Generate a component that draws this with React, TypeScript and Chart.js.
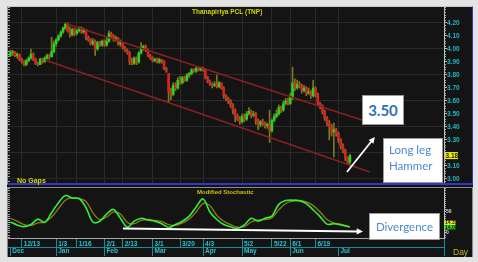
import React, { useEffect, useRef } from 'react';
import { Chart, registerables } from 'chart.js';

Chart.register(...registerables);
Chart.defaults.font.family = '"Liberation Sans", Arial, sans-serif';

// ---------------- data (bar index 1..149, Dec -> early Jul) ----------------
const opens = [
  3.95, 3.97, 3.98, 3.95, 3.96, 3.92, 3.90, 3.88, 3.91, 3.93,
  3.96, 3.92, 3.89, 3.88, 3.92, 3.90, 3.93, 3.95, 3.94, 3.98,
  4.04, 4.07, 4.10, 4.13, 4.16, 4.19, 4.14, 4.11, 4.15, 4.12,
  4.14, 4.16, 4.13, 4.15, 4.09, 4.07, 4.04, 4.06, 4.00, 4.05,
  4.03, 4.06, 4.03, 4.06, 4.12, 4.10, 4.07, 4.08, 4.04, 4.05,
  4.01, 3.99, 3.97, 3.90, 3.89, 3.93, 3.90, 3.97, 4.01, 4.02,
  3.99, 3.95, 3.93, 3.91, 3.92, 3.90, 3.92, 3.91, 3.85, 3.81,
  3.67, 3.65, 3.72, 3.70, 3.76, 3.74, 3.78, 3.76, 3.80, 3.81,
  3.84, 3.83, 3.85, 3.84, 3.85, 3.84, 3.78, 3.75, 3.73, 3.72,
  3.73, 3.71, 3.74, 3.70, 3.64, 3.62, 3.60, 3.57, 3.53, 3.48,
  3.46, 3.44, 3.48, 3.46, 3.50, 3.52, 3.49, 3.50, 3.45, 3.42,
  3.44, 3.43, 3.41, 3.42, 3.37, 3.45, 3.48, 3.50, 3.55, 3.53,
  3.58, 3.60, 3.58, 3.63, 3.74, 3.70, 3.73, 3.72, 3.68, 3.70,
  3.66, 3.67, 3.64, 3.70, 3.65, 3.58, 3.56, 3.52, 3.47, 3.43,
  3.40, 3.36, 3.38, 3.35, 3.30, 3.25, 3.22, 3.16, 3.13,
];
const highs = [
  3.99, 3.99, 3.98, 3.97, 3.96, 3.93, 3.91, 3.92, 3.94, 4.00,
  3.97, 3.93, 3.90, 3.93, 3.93, 3.94, 3.96, 3.96, 4.09, 4.06,
  4.08, 4.11, 4.14, 4.17, 4.20, 4.20, 4.17, 4.16, 4.16, 4.15,
  4.17, 4.17, 4.16, 4.15, 4.10, 4.08, 4.08, 4.07, 4.06, 4.06,
  4.07, 4.07, 4.09, 4.14, 4.13, 4.11, 4.10, 4.09, 4.07, 4.05,
  4.02, 4.00, 3.98, 3.93, 3.94, 3.94, 3.98, 4.05, 4.03, 4.03,
  4.00, 3.96, 3.94, 3.93, 3.93, 3.93, 3.92, 3.91, 3.86, 3.81,
  3.70, 3.74, 3.74, 3.78, 3.79, 3.79, 3.79, 3.81, 3.82, 3.85,
  3.85, 3.86, 3.86, 3.86, 3.86, 3.85, 3.79, 3.76, 3.74, 3.75,
  3.80, 3.75, 3.74, 3.71, 3.65, 3.63, 3.61, 3.58, 3.54, 3.50,
  3.48, 3.50, 3.50, 3.52, 3.55, 3.53, 3.52, 3.51, 3.46, 3.45,
  3.46, 3.44, 3.43, 3.53, 3.46, 3.50, 3.53, 3.57, 3.56, 3.60,
  3.62, 3.62, 3.66, 3.86, 3.77, 3.76, 3.75, 3.73, 3.72, 3.71,
  3.70, 3.68, 3.76, 3.71, 3.66, 3.59, 3.57, 3.53, 3.48, 3.45,
  3.42, 3.43, 3.39, 3.36, 3.31, 3.27, 3.23, 3.17, 3.19,
];
const lows = [
  3.94, 3.95, 3.94, 3.93, 3.91, 3.89, 3.87, 3.87, 3.90, 3.92,
  3.91, 3.88, 3.87, 3.88, 3.89, 3.90, 3.92, 3.92, 3.94, 3.97,
  4.02, 4.06, 4.09, 4.12, 4.15, 4.13, 4.09, 4.10, 4.10, 4.11,
  4.13, 4.12, 4.12, 4.07, 4.06, 4.03, 4.03, 3.95, 3.99, 4.02,
  4.02, 4.02, 4.02, 4.05, 4.09, 4.06, 4.06, 4.03, 4.02, 4.00,
  3.98, 3.96, 3.88, 3.88, 3.88, 3.88, 3.89, 3.96, 3.99, 3.98,
  3.94, 3.92, 3.90, 3.90, 3.89, 3.89, 3.89, 3.84, 3.82, 3.59,
  3.61, 3.64, 3.68, 3.69, 3.73, 3.73, 3.75, 3.75, 3.78, 3.80,
  3.82, 3.82, 3.83, 3.83, 3.83, 3.77, 3.74, 3.72, 3.70, 3.71,
  3.70, 3.70, 3.69, 3.62, 3.60, 3.58, 3.55, 3.50, 3.44, 3.45,
  3.42, 3.43, 3.44, 3.45, 3.49, 3.47, 3.48, 3.42, 3.38, 3.40,
  3.41, 3.39, 3.39, 3.28, 3.36, 3.44, 3.47, 3.49, 3.51, 3.52,
  3.57, 3.57, 3.57, 3.61, 3.68, 3.69, 3.70, 3.66, 3.67, 3.64,
  3.65, 3.62, 3.63, 3.63, 3.57, 3.54, 3.50, 3.45, 3.41, 3.30,
  3.33, 3.17, 3.33, 3.28, 3.23, 3.20, 3.14, 3.11, 3.10,
];
const closes = [
  3.97, 3.98, 3.95, 3.96, 3.92, 3.90, 3.88, 3.91, 3.93, 3.96,
  3.92, 3.89, 3.88, 3.92, 3.90, 3.93, 3.95, 3.94, 3.98, 4.04,
  4.07, 4.10, 4.13, 4.16, 4.19, 4.14, 4.11, 4.15, 4.12, 4.14,
  4.16, 4.13, 4.15, 4.09, 4.07, 4.04, 4.06, 4.00, 4.05, 4.03,
  4.06, 4.03, 4.06, 4.12, 4.10, 4.07, 4.08, 4.04, 4.05, 4.01,
  3.99, 3.97, 3.90, 3.89, 3.93, 3.90, 3.97, 4.01, 4.02, 3.99,
  3.95, 3.93, 3.91, 3.92, 3.90, 3.92, 3.91, 3.85, 3.83, 3.67,
  3.65, 3.72, 3.70, 3.76, 3.74, 3.78, 3.76, 3.80, 3.81, 3.84,
  3.83, 3.85, 3.84, 3.85, 3.84, 3.78, 3.75, 3.73, 3.72, 3.73,
  3.71, 3.74, 3.70, 3.64, 3.62, 3.60, 3.57, 3.53, 3.48, 3.46,
  3.44, 3.48, 3.46, 3.50, 3.52, 3.49, 3.50, 3.45, 3.42, 3.44,
  3.43, 3.41, 3.42, 3.37, 3.45, 3.48, 3.50, 3.55, 3.53, 3.58,
  3.60, 3.58, 3.63, 3.74, 3.70, 3.73, 3.72, 3.68, 3.70, 3.66,
  3.67, 3.64, 3.70, 3.65, 3.58, 3.56, 3.52, 3.47, 3.43, 3.40,
  3.36, 3.38, 3.35, 3.30, 3.25, 3.22, 3.16, 3.13, 3.18,
];

// date axis (bar index of each labelled session)
const dayTickIdx = [6, 21, 30, 42, 50, 63, 75, 85, 102, 115, 123, 134];
const dayTickLabels = ['12/13', '1/3', '1/16', '2/1', '2/13', '3/1', '3/20', '4/3', '5/2', '5/22', '6/1', '6/19'];
const monthTickIdx = [1, 21, 42, 63, 85, 102, 123, 144];
const monthTickLabels = ['Dec', 'Jan', 'Feb', 'Mar', 'Apr', 'May', 'Jun', 'Jul'];
const priceTicks = [3.0, 3.1, 3.2, 3.3, 3.4, 3.5, 3.6, 3.7, 3.8, 3.9, 4.0, 4.1, 4.2];
const stochTicks = [0, 50];

// modified stochastic (%K green, %D olive)
const stochX = [1, 4, 7, 10, 13, 16, 19, 22, 25, 28, 31, 34, 37, 40, 43, 46, 49, 52, 55, 58, 61, 64, 67, 70, 73, 76, 79, 82, 85, 88, 91, 94, 97, 100, 103, 106, 109, 112, 115, 118, 121, 124, 127, 130, 133, 136, 139, 142, 145, 149];
const stochK = [26, 19, 15, 20, 33, 25, 48, 72, 89, 83, 82, 60, 26, 28, 45, 56, 35, 14, 28, 35, 31, 28, 22, 13, 20, 28, 40, 62, 81, 50, 32, 20, 15, 11, 19, 35, 28, 35, 40, 68, 77, 78, 77, 70, 55, 39, 21, 22, 19, 14.0];
const stochD = [35, 28, 20, 18, 24, 26, 38, 58, 78, 84, 82, 75, 48, 32, 38, 50, 45, 25, 22, 30, 32, 30, 27, 20, 18, 24, 33, 50, 70, 65, 42, 28, 20, 14, 15, 26, 31, 32, 36, 55, 70, 76, 77, 74, 65, 50, 32, 24, 21, 14.31];

// trend channel and annotation arrows (data units: bar index, value)
const channelUpper = [{ x: 25.7, y: 4.192 }, { x: 154.2, y: 3.454 }];
const channelLower = [{ x: 16.1, y: 3.915 }, { x: 157.7, y: 3.054 }];
const hammerArrow = { x0: 147.7, y0: 3.054, x1: 159.9, y1: 3.323 };
const divergenceArrow = { x0: 50.1, y0: 10.7, x1: 154.7, y1: 3.6 };

const X_MAX = 190;
const PRICE_MIN = 2.969;
const PRICE_MAX = 4.323;
const STOCH_MIN = -12;
const STOCH_MAX = 107;

// ---------------- helpers ----------------
const tickFont = (size: number) => ({ family: '"Liberation Sans", Arial, sans-serif', size, weight: 'bold' as const });

function minorAxis(position: string, min: number, max: number, step: number, len: number, weight: number) {
  return {
    type: 'linear', axis: 'y', position, min, max, weight,
    afterBuildTicks: (s: any) => {
      const t: any[] = [];
      for (let k = Math.ceil(min / step); k * step <= max; k++) t.push({ value: k * step });
      s.ticks = t;
    },
    ticks: { display: false },
    grid: { drawOnChartArea: false, tickLength: len, tickColor: '#a9a9a9', lineWidth: 1 },
    border: { display: false },
    afterFit: (s: any) => { s.width = 0; s.paddingTop = 0; s.paddingBottom = 0; },
  };
}

function arrowPlugin(id: string, arrow: any, color: string, width: number, head: number) {
  return {
    id,
    afterDatasetsDraw(chart: any) {
      const { ctx } = chart;
      const xs = chart.scales.x, ys = chart.scales.y;
      const x0 = xs.getPixelForValue(arrow.x0), y0 = ys.getPixelForValue(arrow.y0);
      const x1 = xs.getPixelForValue(arrow.x1), y1 = ys.getPixelForValue(arrow.y1);
      const a = Math.atan2(y1 - y0, x1 - x0);
      ctx.save();
      ctx.strokeStyle = color; ctx.fillStyle = color; ctx.lineWidth = width;
      ctx.beginPath();
      ctx.moveTo(x0, y0);
      ctx.lineTo(x1 - head * 0.7 * Math.cos(a), y1 - head * 0.7 * Math.sin(a));
      ctx.stroke();
      ctx.beginPath();
      ctx.moveTo(x1, y1);
      ctx.lineTo(x1 - head * Math.cos(a - 0.45), y1 - head * Math.sin(a - 0.45));
      ctx.lineTo(x1 - head * Math.cos(a + 0.45), y1 - head * Math.sin(a + 0.45));
      ctx.closePath();
      ctx.fill();
      ctx.restore();
    },
  };
}

const lastPricePlugin = {
  id: 'lastPrice',
  afterDraw(chart: any) {
    const { ctx } = chart;
    const ys = chart.scales.y;
    const v = closes[closes.length - 1];
    const py = ys.getPixelForValue(v);
    const x = ys.left + 1;
    ctx.save();
    ctx.fillStyle = '#f0f000';
    ctx.fillRect(x, py - 3.5, 13, 7);
    ctx.fillStyle = '#1a1a1a';
    ctx.font = 'bold 6.5px "Liberation Sans"';
    ctx.textBaseline = 'middle';
    ctx.textAlign = 'left';
    ctx.fillText(v.toFixed(2), x + 0.5, py + 0.3);
    ctx.restore();
  },
};

const lastStochPlugin = {
  id: 'lastStoch',
  afterDraw(chart: any) {
    const { ctx } = chart;
    const ys = chart.scales.y;
    const k = stochK[stochK.length - 1];
    const d = stochD[stochD.length - 1];
    const pk = ys.getPixelForValue(k);
    let pd = ys.getPixelForValue(d);
    if (Math.abs(pd - pk) < 4.5) pd = pk - 4.3;
    const x = ys.left + 0.5;
    ctx.save();
    ctx.font = 'bold 5px "Liberation Sans"';
    ctx.textBaseline = 'middle';
    ctx.textAlign = 'left';
    ctx.fillStyle = '#eeee10';
    ctx.fillRect(x, pd - 2.2, 11, 4.4);
    ctx.fillStyle = '#1a1a1a';
    ctx.fillText(d.toFixed(2), x + 0.5, pd + 0.2);
    ctx.fillStyle = '#22dd22';
    ctx.fillRect(x, pk - 2.1, 11, 4.4);
    ctx.fillStyle = '#1a1a1a';
    ctx.fillText(k.toFixed(2), x + 0.5, pk + 0.3);
    ctx.restore();
  },
};

export default function App() {
  const topRef = useRef<HTMLCanvasElement>(null);
  const botRef = useRef<HTMLCanvasElement>(null);

  useEffect(() => {
    const idx = closes.map((_, i) => i + 1);
    const wickData = idx.map((x, i) => ({ x, y: [lows[i], highs[i]] }));
    const bodyData = idx.map((x, i) => ({ x, y: [opens[i], closes[i]] }));
    const bodyColors = idx.map((_, i) => (closes[i] >= opens[i] ? '#22d622' : '#d92323'));

    const top = new Chart(topRef.current as HTMLCanvasElement, {
      type: 'bar',
      data: {
        datasets: [
          { type: 'line', data: channelUpper, borderColor: '#8c1f1f', borderWidth: 1.5, pointRadius: 0, xAxisID: 'x', yAxisID: 'y', order: 0 } as any,
          { type: 'line', data: channelLower, borderColor: '#8c1f1f', borderWidth: 1.5, pointRadius: 0, xAxisID: 'x', yAxisID: 'y', order: 0 } as any,
          { type: 'bar', data: bodyData, backgroundColor: bodyColors, barThickness: 2, grouped: false, minBarLength: 1, xAxisID: 'x', yAxisID: 'y', order: 1 } as any,
          { type: 'bar', data: wickData, backgroundColor: '#7d7921', barThickness: 1, grouped: false, xAxisID: 'x', yAxisID: 'y', order: 2 } as any,
        ],
      },
      options: {
        animation: false,
        responsive: false,
        maintainAspectRatio: false,
        devicePixelRatio: 1,
        layout: { padding: 0 },
        plugins: { legend: { display: false }, tooltip: { enabled: false }, title: { display: false } },
        scales: {
          x: {
            type: 'linear', min: 0, max: X_MAX, offset: false, position: 'bottom',
            afterBuildTicks: (s: any) => { s.ticks = [...dayTickIdx, 144].map((v) => ({ value: v })); },
            ticks: { display: false },
            grid: { color: '#2a2a2a', drawTicks: false, offset: false, lineWidth: 1 },
            border: { display: false },
            afterFit: (s: any) => { s.height = 0; s.paddingLeft = 0; s.paddingRight = 0; },
          },
          yLeft: minorAxis('left', PRICE_MIN, PRICE_MAX, 0.02, -2, 0),
          yMinor: minorAxis('right', PRICE_MIN, PRICE_MAX, 0.02, 2, 0),
          y: {
            type: 'linear', axis: 'y', position: 'right', min: PRICE_MIN, max: PRICE_MAX, weight: 1,
            afterBuildTicks: (s: any) => { s.ticks = priceTicks.map((v) => ({ value: v })); },
            ticks: {
              autoSkip: false, color: '#1db7c6', font: tickFont(6.5), padding: 0,
              callback: (v: any) => (Math.abs(v - 3.2) < 1e-6 ? '' : Number(v).toFixed(2)),
            },
            grid: {
              color: (c: any) => (Math.round(c.tick.value * 10) % 2 === 0 ? '#2a2a2a' : 'rgba(0,0,0,0)'),
              tickLength: 3, tickColor: '#bdbdbd', lineWidth: 1,
            },
            border: { color: '#bdbdbd' },
            afterFit: (s: any) => { s.width = 28; s.paddingTop = 0; s.paddingBottom = 0; },
          },
        },
      } as any,
      plugins: [arrowPlugin('hammerArrow', hammerArrow, '#ffffff', 1.8, 7), lastPricePlugin],
    });

    const bot = new Chart(botRef.current as HTMLCanvasElement, {
      type: 'line',
      data: {
        datasets: [
          { data: stochX.map((x, i) => ({ x, y: stochK[i] })), borderColor: '#36ee36', borderWidth: 1.6, pointRadius: 0, tension: 0.35, xAxisID: 'x', yAxisID: 'y', order: 0 },
          { data: stochX.map((x, i) => ({ x, y: stochD[i] })), borderColor: '#8f7b1f', borderWidth: 1.3, pointRadius: 0, tension: 0.35, xAxisID: 'x', yAxisID: 'y', order: 1 },
        ],
      },
      options: {
        animation: false,
        responsive: false,
        maintainAspectRatio: false,
        devicePixelRatio: 1,
        layout: { padding: 0 },
        plugins: { legend: { display: false }, tooltip: { enabled: false }, title: { display: false } },
        scales: {
          x: {
            type: 'linear', axis: 'x', min: 0, max: X_MAX, offset: false, position: 'bottom', weight: 0,
            afterBuildTicks: (s: any) => { s.ticks = [...dayTickIdx, X_MAX].map((v) => ({ value: v })); },
            ticks: {
              autoSkip: false, maxRotation: 0, minRotation: 0, align: 'start', labelOffset: 2, padding: -7,
              color: '#2fc3d3', font: tickFont(6.5),
              callback: (v: any) => { const k = dayTickIdx.indexOf(v); return k >= 0 ? dayTickLabels[k] : ''; },
            },
            grid: { drawOnChartArea: false, tickLength: 9, tickColor: '#158f9a', offset: false },
            border: { color: '#a6a6a6' },
            afterFit: (s: any) => { s.height = 9; s.paddingLeft = 0; s.paddingRight = 0; },
          },
          x2: {
            type: 'linear', axis: 'x', min: 0, max: X_MAX, offset: false, position: 'bottom', weight: 1,
            afterBuildTicks: (s: any) => { s.ticks = [...monthTickIdx, X_MAX].map((v) => ({ value: v })); },
            ticks: {
              autoSkip: false, maxRotation: 0, minRotation: 0, align: 'start', labelOffset: 2, padding: -8.4,
              color: '#2fc3d3', font: tickFont(6.5),
              callback: (v: any) => { const k = monthTickIdx.indexOf(v); return k >= 0 ? monthTickLabels[k] : ''; },
            },
            grid: { drawOnChartArea: false, tickLength: 9, tickColor: '#158f9a', offset: false },
            border: { color: '#158f9a' },
            afterFit: (s: any) => { s.height = 9; s.paddingLeft = 0; s.paddingRight = 0; },
          },
          yLeft: minorAxis('left', STOCH_MIN, STOCH_MAX, 5, -2, 0),
          yMinor: minorAxis('right', STOCH_MIN, STOCH_MAX, 5, 2, 0),
          y: {
            type: 'linear', axis: 'y', position: 'right', min: STOCH_MIN, max: STOCH_MAX, weight: 1,
            afterBuildTicks: (s: any) => { s.ticks = stochTicks.map((v) => ({ value: v })); },
            ticks: { autoSkip: false, color: '#dcdcdc', font: tickFont(5), padding: 0, callback: (v: any) => String(v) },
            grid: { drawOnChartArea: false, tickLength: 2, tickColor: '#bdbdbd' },
            border: { color: '#bdbdbd' },
            afterFit: (s: any) => { s.width = 28; s.paddingTop = 0; s.paddingBottom = 0; },
          },
        },
      } as any,
      plugins: [arrowPlugin('divArrow', divergenceArrow, '#ffffff', 2, 7), lastStochPlugin],
    });

    return () => { top.destroy(); bot.destroy(); };
  }, []);

  const abs = (s: any) => ({ position: 'absolute' as const, ...s });

  return (
    <div style={{ position: 'fixed', left: 0, top: 0, width: 478, height: 262, background: '#e3e3e3', overflow: 'hidden', fontFamily: '"Liberation Sans", Arial, sans-serif' }}>
      <div style={abs({ left: 7, top: 6, width: 466, height: 251, background: '#141414' })} />
      <canvas ref={topRef} width={464} height={176} style={abs({ left: 8, top: 7, width: 464, height: 176 })} />
      <canvas ref={botRef} width={464} height={68} style={abs({ left: 8, top: 188, width: 464, height: 68 })} />
      <div style={abs({ left: 7, top: 6, width: 466, height: 179, boxSizing: 'border-box', borderLeft: '1px solid #8a94a6', borderTop: '1px solid #c4c6ca', borderRight: '1px solid #3535c6', borderBottom: '2px solid #3535c6', pointerEvents: 'none' })} />
      <div style={abs({ left: 7, top: 187, width: 466, height: 70, boxSizing: 'border-box', borderLeft: '1px solid #8a8a8a', borderTop: '1px solid #8a8a8a', borderRight: '1px solid #8a8a8a', pointerEvents: 'none' })} />

      <div style={abs({ left: 192, top: 8, fontSize: 6.5, lineHeight: '8px', fontWeight: 'bold', color: '#d6d600', whiteSpace: 'nowrap' })}>Thanapiriya PCL (TNP)</div>
      <div style={abs({ left: 17, top: 177, fontSize: 7, lineHeight: '8px', fontWeight: 'bold', color: '#d4d400', whiteSpace: 'nowrap' })}>No Gaps</div>
      <div style={abs({ left: 197, top: 188.5, fontSize: 6, lineHeight: '7px', fontWeight: 'bold', color: '#c9c400', whiteSpace: 'nowrap' })}>Modified Stochastic</div>
      <div style={abs({ left: 453, top: 246.5, fontSize: 8.5, lineHeight: '10px', color: '#c7b62a', whiteSpace: 'nowrap' })}>Day</div>

      <div style={abs({ left: 362, top: 95, width: 42, height: 30, boxSizing: 'border-box', background: '#ffffff', border: '1px solid #9a9a9a', display: 'flex', alignItems: 'center', justifyContent: 'center', fontFamily: 'Lato, "Open Sans", sans-serif', fontWeight: 'bold', fontSize: 15, color: '#2c71b6' })}>3.50</div>
      <div style={abs({ left: 383, top: 138, width: 60, height: 45, boxSizing: 'border-box', background: '#ffffff', border: '1px solid #9a9a9a', paddingLeft: 5, paddingTop: 3, fontFamily: 'Lato, "Open Sans", sans-serif', fontSize: 11.5, lineHeight: '16px', color: '#4a8bd2', whiteSpace: 'nowrap' })}>
        <div>Long leg</div>
        <div>Hammer</div>
      </div>
      <div style={abs({ left: 369, top: 213, width: 71, height: 27, boxSizing: 'border-box', background: '#ffffff', border: '1px solid #9a9a9a', display: 'flex', alignItems: 'center', justifyContent: 'center', fontFamily: 'Lato, "Open Sans", sans-serif', fontSize: 11.5, color: '#4a8bd2', whiteSpace: 'nowrap' })}>Divergence</div>
    </div>
  );
}
